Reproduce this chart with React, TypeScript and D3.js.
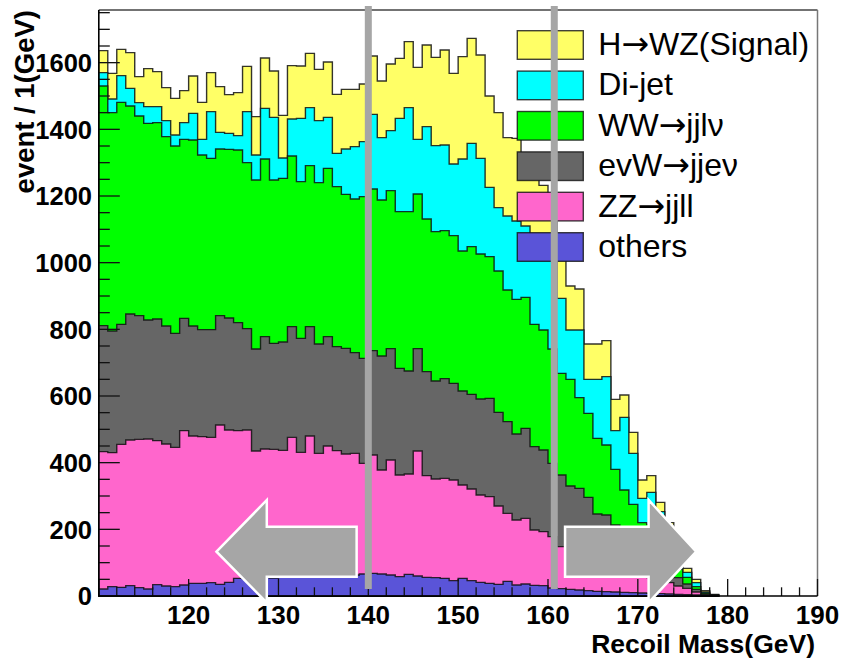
import React from 'react';
import * as d3 from 'd3';

// Histogram bins: 1 GeV wide, first bin starts at 110 GeV
const firstBin = 110;

const others = [
  21, 28, 26, 31, 25, 21, 34, 30, 28, 33,
  38, 38, 40, 35, 41, 53, 51, 52, 55, 54,
  56, 58, 57, 60, 59, 62, 61, 64, 63, 66,
  68, 66, 63, 58, 65, 60, 56, 55, 53, 46,
  53, 46, 41, 38, 35, 44, 33, 36, 32, 31,
  24, 22, 20, 18, 16, 14, 13, 12, 11, 10,
  9, 8, 7, 6, 5, 4, 3, 1, 0,
];
const zzJjll = [
  412, 402, 429, 437, 445, 450, 432, 426, 418, 463,
  442, 440, 436, 478, 457, 443, 447, 383, 386, 386,
  381, 418, 374, 420, 369, 388, 375, 362, 365, 332,
  355, 312, 345, 305, 301, 375, 305, 296, 300, 302,
  280, 275, 262, 260, 235, 204, 195, 197, 166, 162,
  154, 126, 120, 110, 99, 91, 82, 73, 64, 58,
  51, 47, 41, 34, 25, 19, 9, 2, 1,
];
const evwJjev = [
  378, 365, 360, 378, 371, 357, 365, 354, 342, 337,
  330, 321, 323, 328, 336, 324, 304, 306, 337, 318,
  325, 332, 342, 328, 328, 328, 312, 317, 302, 315,
  313, 342, 334, 320, 309, 307, 312, 294, 299, 290,
  282, 284, 288, 295, 281, 275, 258, 270, 250, 245,
  220, 215, 190, 195, 181, 141, 148, 128, 115, 97,
  80, 75, 62, 50, 25, 13, 8, 3, 1,
];
const wwJjlv = [
  719, 655, 666, 624, 599, 590, 589, 568, 562, 537,
  558, 524, 514, 500, 506, 518, 498, 507, 533, 490,
  491, 512, 470, 483, 484, 505, 480, 462, 461, 485,
  485, 468, 474, 470, 478, 464, 458, 448, 444, 443,
  420, 443, 435, 425, 424, 395, 404, 393, 367, 360,
  343, 305, 320, 272, 252, 227, 210, 167, 128, 110,
  80, 85, 80, 60, 25, 20, 8, 3, 1,
];
const diJet = [
  40, 41, 80, 53, 40, 50, 48, 48, 33, 50,
  80, 47, 140, 50, 48, 43, 153, 75, 152, 188,
  61, 111, 190, 174, 186, 153, 100, 136, 157, 165,
  224, 187, 180, 280, 312, 164, 277, 258, 257, 215,
  276, 310, 287, 208, 190, 222, 235, 214, 265, 262,
  289, 225, 148, 203, 102, 177, 205, 116, 218, 153,
  73, 96, 63, 45, 25, 15, 12, 3, 1,
];
const signalHWZ = [
  66, 77, 79, 107, 78, 114, 105, 99, 110, 96,
  112, 111, 117, 137, 116, 129, 136, 115, 151, 139,
  128, 160, 157, 163, 154, 166, 177, 179, 172, 173,
  175, 170, 200, 180, 198, 216, 245, 265, 285, 272,
  307, 315, 310, 274, 285, 235, 248, 190, 210, 172,
  160, 115, 132, 123, 106, 106, 108, 94, 67, 63,
  55, 50, 28, 25, 13, 12, 10, 4, 1,
];

const seriesKeys = ['others', 'zz', 'evw', 'ww', 'dijet', 'signal'];
const seriesData: Record<string, number[]> = {
  others, zz: zzJjll, evw: evwJjev, ww: wwJjlv, dijet: diJet, signal: signalHWZ,
};
const seriesColors: Record<string, string> = {
  others: '#5a54d8', zz: '#ff66cc', evw: '#666666', ww: '#00ff00', dijet: '#00ffff', signal: '#ffff66',
};
const legendKeys = ['signal', 'dijet', 'ww', 'evw', 'zz', 'others'];
// each label split as [before arrow, after arrow] (arrow drawn with a wider glyph)
const legendLabels: string[][] = [
  ['H', 'WZ(Signal)'], ['Di-jet'], ['WW', 'jjl\u03bd'], ['evW', 'jje\u03bd'], ['ZZ', 'jjll'], ['others'],
];

const yTicksMajor = [0, 200, 400, 600, 800, 1000, 1200, 1400, 1600];
const xTicksMajor = [120, 130, 140, 150, 160, 170, 180, 190];
const cutLines = [140, 160.7];

const xDomain = [110, 190];
const yDomain = [0, 1758];

const W = 846, H = 664;
const plot = { left: 98.8, right: 817.5, top: 10, bottom: 596 };

export default function App() {
  const x = d3.scaleLinear().domain(xDomain).range([plot.left, plot.right]);
  const y = d3.scaleLinear().domain(yDomain).range([plot.bottom, plot.top]);

  const nBins = others.length;
  const rows = d3.range(nBins).map((i) => {
    const r: any = { lo: firstBin + i };
    seriesKeys.forEach((k) => (r[k] = seriesData[k][i]));
    return r;
  });
  const stacked = d3.stack<any>().keys(seriesKeys)(rows);

  const area = d3
    .area<[number, number]>()
    .x((d) => x(d[0]))
    .y0(y(0))
    .y1((d) => y(d[1]))
    .curve(d3.curveStepAfter);

  const layers = stacked.map((s) => {
    const pts: [number, number][] = s.map((d, i) => [firstBin + i, d[1]]);
    pts.push([firstBin + nBins, s[nBins - 1][1]]);
    pts.push([firstBin + nBins, 0]);
    return { key: s.key, path: area(pts) as string };
  });

  const yMinor = d3.range(0, 1751, 50);
  const xMinor = d3.range(110, 191, 2);

  // arrows (data units)
  const arrowY = { shaftTop: 208, shaftBot: 58, mid: 133, headTop: 288, headBot: -20 };
  const leftArrow = { tip: 123.1, base: 128.7, end: 138.7 };
  const rightArrow = { start: 161.9, base: 171.2, tip: 176.5 };
  const lp = [
    [leftArrow.tip, arrowY.mid], [leftArrow.base, arrowY.headTop], [leftArrow.base, arrowY.shaftTop],
    [leftArrow.end, arrowY.shaftTop], [leftArrow.end, arrowY.shaftBot], [leftArrow.base, arrowY.shaftBot],
    [leftArrow.base, arrowY.headBot],
  ].map(([a, b]) => `${x(a)},${y(b)}`).join(' ');
  const rp = [
    [rightArrow.tip, arrowY.mid], [rightArrow.base, arrowY.headTop], [rightArrow.base, arrowY.shaftTop],
    [rightArrow.start, arrowY.shaftTop], [rightArrow.start, arrowY.shaftBot], [rightArrow.base, arrowY.shaftBot],
    [rightArrow.base, arrowY.headBot],
  ].map(([a, b]) => `${x(a)},${y(b)}`).join(' ');

  const font = 'Liberation Sans, Arial, Helvetica, sans-serif';

  return (
    <svg width={W} height={H} style={{ position: 'absolute', left: 0, top: 0, background: '#fff' }} fontFamily={font}>
      <rect x={0} y={0} width={W} height={H} fill="#fff" />
      {/* histograms, tallest cumulative first */}
      {layers.slice().reverse().map((l) => (
        <path key={l.key} d={l.path} fill={seriesColors[l.key]} stroke="#111" strokeOpacity={0.85} strokeWidth={1.4} strokeLinejoin="miter" />
      ))}
      {/* frame */}
      <line x1={plot.left} x2={plot.right} y1={plot.top} y2={plot.top} stroke="#444" strokeWidth={1.5} />
      <line x1={plot.right} x2={plot.right} y1={plot.top} y2={plot.bottom} stroke="#777" strokeWidth={1.5} />
      {/* y ticks */}
      {yMinor.map((v) => (
        <line key={'ym' + v} x1={plot.left} x2={plot.left + (v % 200 === 0 ? 21 : 11)} y1={y(v)} y2={y(v)} stroke="#111" strokeWidth={1.3} />
      ))}
      {/* x ticks */}
      {xMinor.map((v) => (
        <line key={'xm' + v} x1={x(v)} x2={x(v)} y1={plot.bottom} y2={plot.bottom - (v % 10 === 0 ? 17 : 8.7)} stroke="#111" strokeWidth={1.3} />
      ))}
      <line x1={plot.left} x2={plot.left} y1={plot.top} y2={plot.bottom} stroke="#000" strokeWidth={1.6} />
      <line x1={plot.left} x2={plot.right} y1={plot.bottom} y2={plot.bottom} stroke="#000" strokeWidth={1.6} />
      {/* y labels */}
      {yTicksMajor.map((v) => (
        <text key={'yl' + v} x={92} y={y(v)} dy="0.36em" textAnchor="end" fontSize={25.5} fontWeight="bold" fill="#000">{v}</text>
      ))}
      {/* x labels */}
      {xTicksMajor.map((v) => (
        <text key={'xl' + v} x={x(v)} y={624} textAnchor="middle" fontSize={26} fontWeight="bold" fill="#000">{v}</text>
      ))}
      <text x={815} y={653} textAnchor="end" fontSize={26.5} fontWeight="bold">Recoil Mass(GeV)</text>
      <text transform="translate(34,10) rotate(-90)" textAnchor="end" fontSize={27.5} fontWeight="bold">event / 1(GeV)</text>
      {/* legend */}
      {legendKeys.map((k, i) => (
        <g key={'lg' + k}>
          <rect x={517.3} y={30.7 + 40.4 * i} width={66} height={28.6} fill={seriesColors[k]} stroke="#111" strokeOpacity={0.8} strokeWidth={1.4} />
          <text x={598.3} y={55 + 40.4 * i} fontSize={32} fill="#000">
            {legendLabels[i][0]}
            {legendLabels[i].length > 1 && (
              <tspan fontFamily="DejaVu Sans" fontSize={33}>{'\u2192'}</tspan>
            )}
            {legendLabels[i].length > 1 && legendLabels[i][1]}
          </text>
        </g>
      ))}
      {/* cut lines */}
      {cutLines.map((c) => (
        <line key={'cut' + c} x1={x(c)} x2={x(c)} y1={6} y2={589} stroke="#a6a6a6" strokeWidth={7} />
      ))}
      {/* arrows */}
      <polygon points={lp} fill="#a6a6a6" stroke="#fff" strokeWidth={2.5} strokeLinejoin="miter" />
      <polygon points={rp} fill="#a6a6a6" stroke="#fff" strokeWidth={2.5} strokeLinejoin="miter" />
    </svg>
  );
}
